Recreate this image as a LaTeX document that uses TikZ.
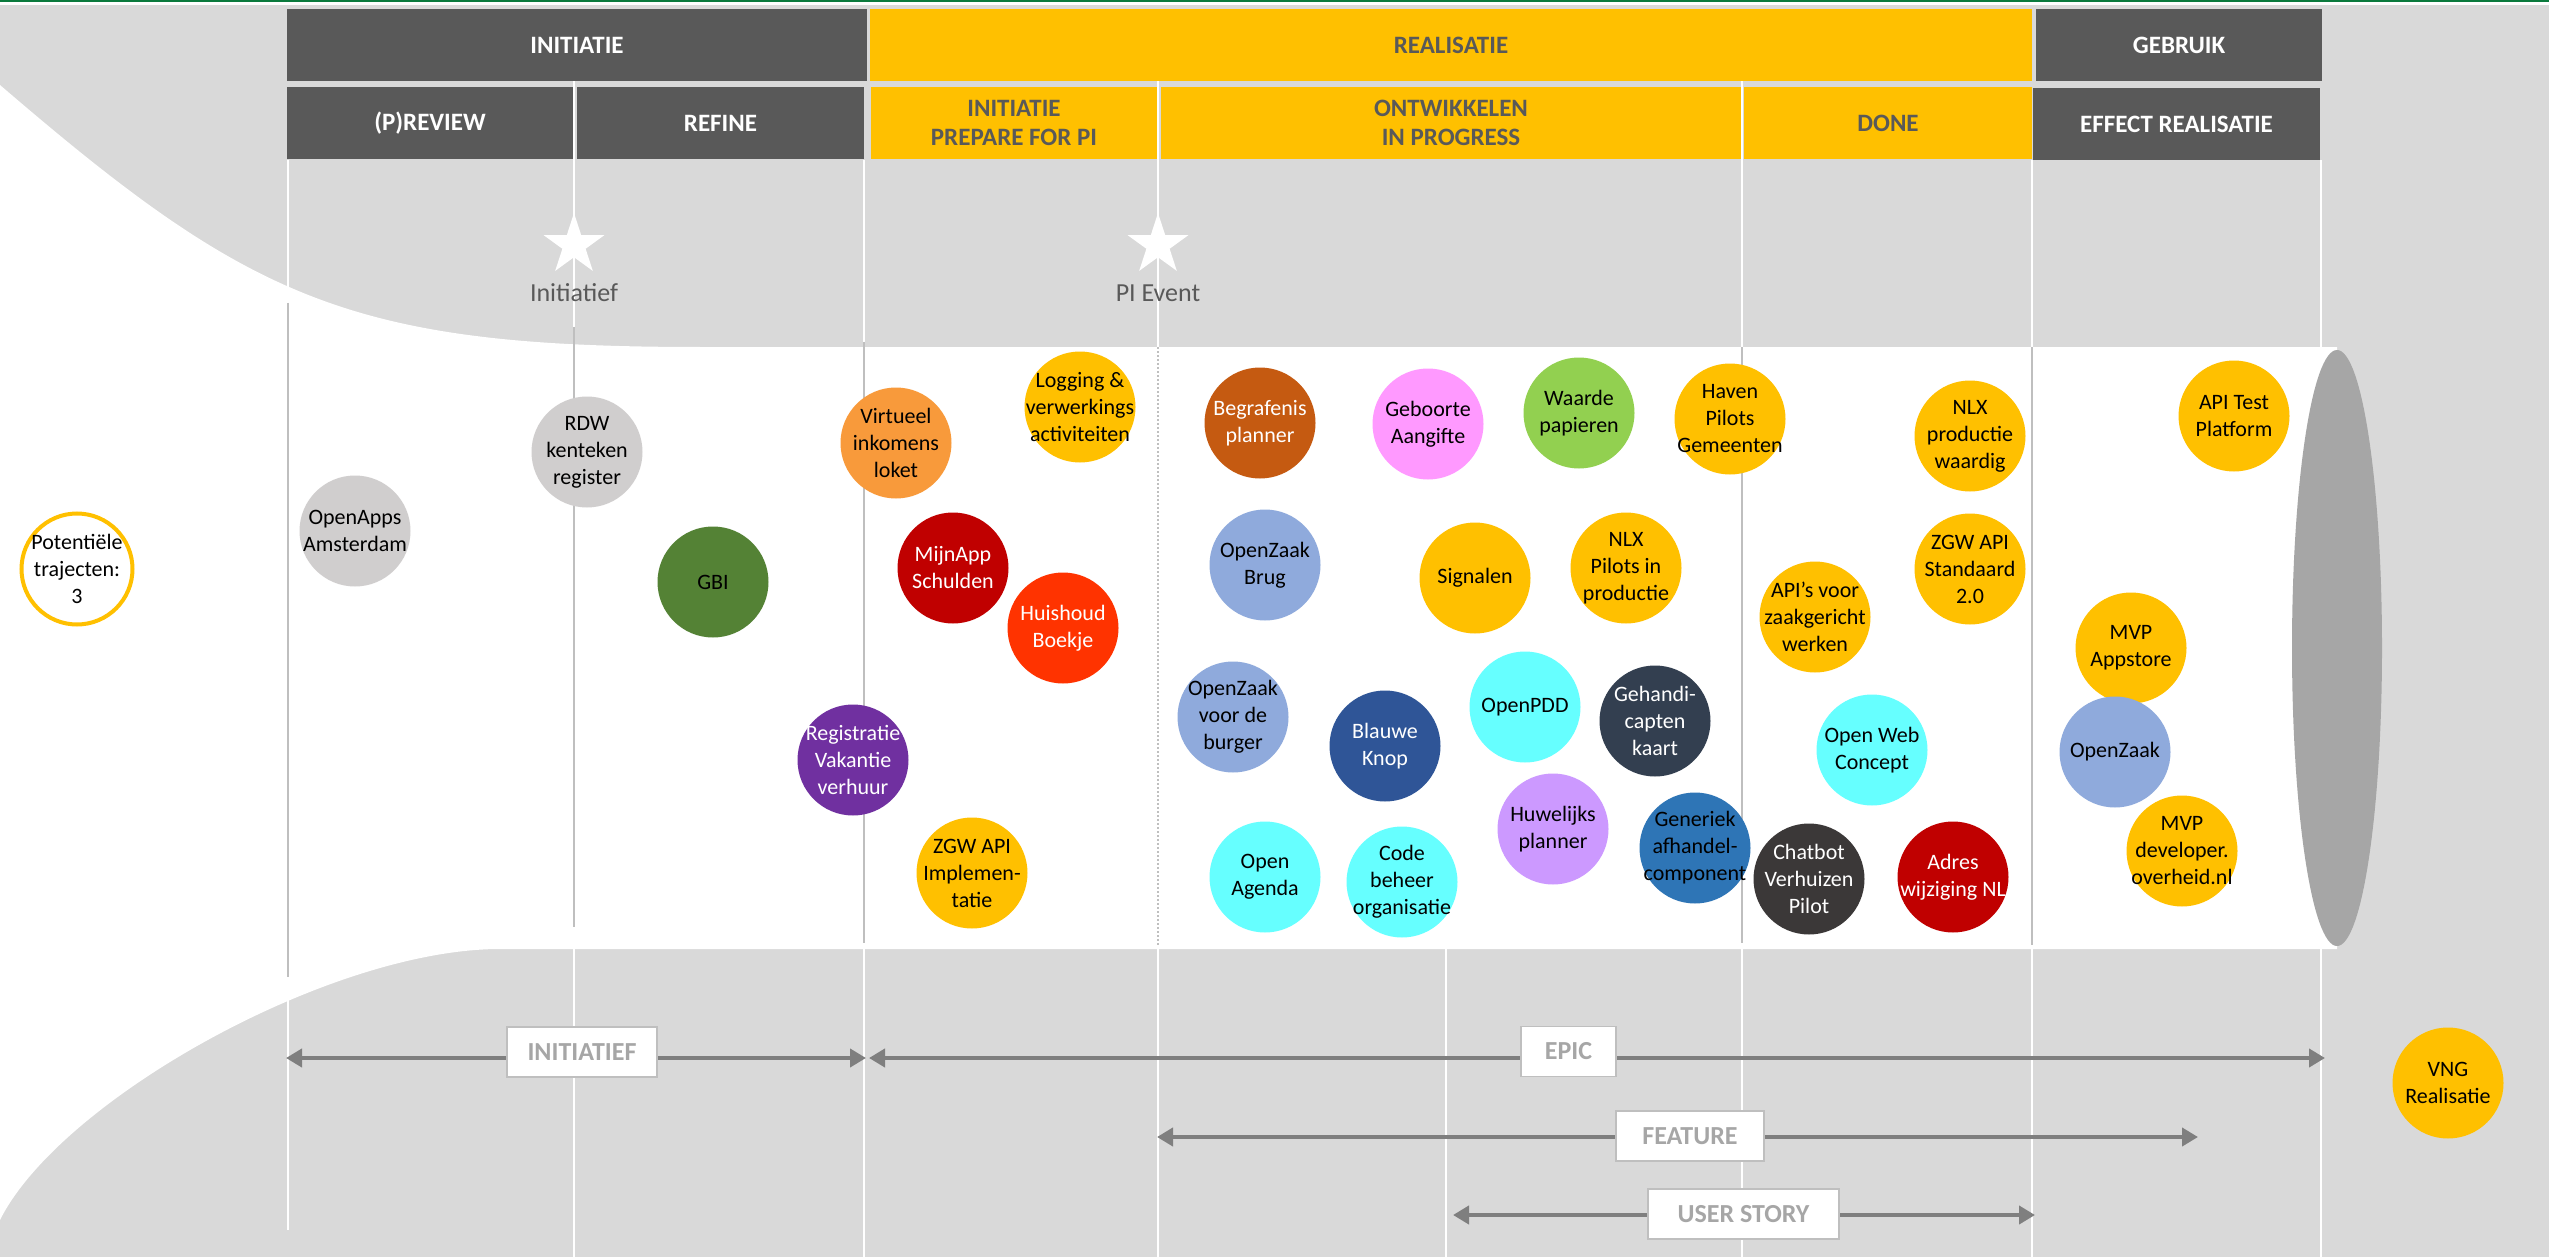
\documentclass[tikz,border=0pt]{standalone}
\usepackage{fontspec}
\setmainfont{Carlito}
\usetikzlibrary{arrows.meta,shapes.geometric}
\definecolor{bggray}{HTML}{D9D9D9}
\definecolor{hdrdark}{HTML}{595959}
\definecolor{vngyellow}{HTML}{FFC000}
\definecolor{capgray}{HTML}{A6A6A6}
\definecolor{linegray}{HTML}{BFBFBF}
\definecolor{arrowgray}{HTML}{7F7F7F}
\definecolor{topgreen}{HTML}{0B7A3D}
\definecolor{cLightGray}{HTML}{D0CECE}
\definecolor{cGreenDk}{HTML}{548235}
\definecolor{cOrange}{HTML}{F89A3B}
\definecolor{cDarkRed}{HTML}{C00000}
\definecolor{cRedOr}{HTML}{FF3300}
\definecolor{cPurple}{HTML}{7030A0}
\definecolor{cBrown}{HTML}{C55A11}
\definecolor{cPink}{HTML}{FF99FF}
\definecolor{cLime}{HTML}{92D050}
\definecolor{cSteel}{HTML}{8FAADC}
\definecolor{cNavy}{HTML}{2F5597}
\definecolor{cCyan}{HTML}{66FFFF}
\definecolor{cSlate}{HTML}{333F50}
\definecolor{cLav}{HTML}{CC99FF}
\definecolor{cBlue}{HTML}{2E75B6}
\definecolor{cCharcoal}{HTML}{3B3838}
\newcommand{\bub}[6]{%
  \node[bubble, fill=#4] (#1) at (#2,#3) {};
  \node[btext, text=#5] (#1t) at (#1) {#6};}
\tikzset{
  hdrbox/.style={rectangle, inner sep=0pt, minimum height=72pt, font=\fontsize{25}{29}\selectfont\bfseries, align=center},
  darkhdr/.style={hdrbox, fill=hdrdark, text=white},
  yelhdr/.style={hdrbox, fill=vngyellow, text=hdrdark},
  bubble/.style={circle, minimum size=111pt, inner sep=0pt},
  btext/.style={align=center, inner sep=0pt, font=\fontsize{22}{27}\selectfont},
  sepwhite/.style={draw=white, line width=1.5pt},
  sepgray/.style={draw=linegray, line width=1.5pt},
  milestone/.style={star, star points=5, star point ratio=2.618, fill=white, minimum size=64pt, inner sep=0pt},
  mstext/.style={text=hdrdark, font=\fontsize{26}{30}\selectfont, inner sep=0pt},
  spanarrow/.style={draw=arrowgray, line width=4pt, {Triangle[length=16pt,width=18pt]}-{Triangle[length=16pt,width=18pt]}},
  spanlabel/.style={fill=white, draw=linegray, line width=1.5pt, minimum height=50pt, inner sep=0pt, text=capgray, font=\fontsize{26}{30}\selectfont\bfseries},
}
\begin{document}
\begin{tikzpicture}[x=1pt,y=-1pt]
\useasboundingbox (0,0) rectangle (2549,1257);
% background
\fill[bggray] (0,0) rectangle (2549,1257);
\fill[white] (0,2) rectangle (2549,5);
\fill[topgreen] (0,0) rectangle (2549,2);
% white separator lines over the gray
\draw[sepwhite] (288,160) -- (288,1230);
\draw[sepwhite] (574,81) -- (574,1257);
\draw[sepwhite] (864,160) -- (864,1257);
\draw[sepwhite] (1158,78) -- (1158,1257);
\draw[sepwhite] (1446,949) -- (1446,1257);
\draw[sepwhite] (1742,81) -- (1742,1257);
\draw[sepwhite] (2032,160) -- (2032,1257);
\draw[sepwhite] (2321,160) -- (2321,1257);
% white funnel band
\fill[white] (0,85) .. controls (250,300) and (350,347) .. (700,347) -- (2337,347) -- (2337,949) -- (500,949) .. controls (330,949) and (60,1100) .. (0,1220) -- cycle;
% gray lines inside the band
\draw[sepgray] (288,303) -- (288,977);
\draw[sepgray] (574,327) -- (574,927);
\draw[sepgray] (864,342) -- (864,943);
\draw[sepgray, dash pattern=on 2pt off 2pt] (1158,347) -- (1158,945);
\draw[sepgray] (1742,347) -- (1742,943);
\draw[sepgray] (2032,347) -- (2032,945);
% cylinder end
\node[ellipse, fill=capgray, minimum width=90pt, minimum height=596pt, inner sep=0pt] (cap) at (2337,648) {};
% headers
\node[darkhdr, minimum width=580pt] (hInit) at (577,45) {INITIATIE};
\node[yelhdr, minimum width=1162pt] (hReal) at (1451,45) {REALISATIE};
\node[darkhdr, minimum width=286pt] (hGebr) at (2179,45) {GEBRUIK};
\node[darkhdr, minimum width=286pt] (hPrev) at (430,123) {(P)REVIEW};
\node[darkhdr, minimum width=287pt] (hRef) at (720.5,123) {REFINE};
\node[yelhdr, minimum width=286pt] (hPrep) at (1014,123) {INITIATIE\\PREPARE FOR PI};
\node[yelhdr, minimum width=580pt] (hOntw) at (1451,123) {ONTWIKKELEN\\IN PROGRESS};
\node[yelhdr, minimum width=288pt] (hDone) at (1888,123) {DONE};
\node[darkhdr, minimum width=287pt] (hEff) at (2176.5,124) {EFFECT REALISATIE};
% milestones
\node[milestone] (star1) at (574,245) {};
\node[mstext] (ms1) at (574,293) {Initiatief};
\node[milestone] (star2) at (1158,245) {};
\node[mstext] (ms2) at (1158,293) {PI Event};
% bubbles
\node[bubble, fill=white, draw=vngyellow, line width=4pt] (pot) at (77,569) {};
\node[btext] (pott) at (pot) {Potentiële\\trajecten:\\3};
\bub{openapps}{355}{531}{cLightGray}{black}{OpenApps\\Amsterdam}
\bub{rdw}{587}{452}{cLightGray}{black}{RDW\\kenteken\\register}
\bub{gbi}{713}{582}{cGreenDk}{black}{GBI}
\bub{virtueel}{896}{443}{cOrange}{black}{Virtueel\\inkomens\\loket}
\bub{logging}{1080}{407}{vngyellow}{black}{Logging \&\\verwerkings\\activiteiten}
\bub{mijnapp}{953}{568}{cDarkRed}{white}{MijnApp\\Schulden}
\bub{huishoud}{1063}{628}{cRedOr}{white}{Huishoud\\Boekje}
\bub{registratie}{853}{760}{cPurple}{white}{Registratie\\Vakantie\\verhuur}
\bub{zgwimpl}{972}{873}{vngyellow}{black}{ZGW API\\Implemen-\\tatie}
\bub{begrafenis}{1260}{423}{cBrown}{white}{Begrafenis\\planner}
\bub{geboorte}{1428}{424}{cPink}{black}{Geboorte\\Aangifte}
\bub{waarde}{1579}{413}{cLime}{black}{Waarde\\papieren}
\bub{haven}{1730}{419}{vngyellow}{black}{Haven\\Pilots\\Gemeenten}
\bub{ozbrug}{1265}{565}{cSteel}{black}{OpenZaak\\Brug}
\bub{signalen}{1475}{578}{vngyellow}{black}{Signalen}
\bub{nlxpilots}{1626}{568}{vngyellow}{black}{NLX\\Pilots in\\productie}
\bub{ozburger}{1233}{717}{cSteel}{black}{OpenZaak\\voor de\\burger}
\bub{blauwe}{1385}{746}{cNavy}{white}{Blauwe\\Knop}
\bub{openpdd}{1525}{707}{cCyan}{black}{OpenPDD}
\bub{gehandi}{1655}{721}{cSlate}{white}{Gehandi-\\capten\\kaart}
\bub{huwelijk}{1553}{829}{cLav}{black}{Huwelijks\\planner}
\bub{generiek}{1695}{848}{cBlue}{black}{Generiek\\afhandel-\\component}
\bub{openagenda}{1265}{877}{cCyan}{black}{Open\\Agenda}
\bub{codebeheer}{1402}{882}{cCyan}{black}{Code\\beheer\\organisatie}
\bub{apisvoor}{1815}{617}{vngyellow}{black}{API’s voor\\zaakgericht\\werken}
\bub{openweb}{1872}{750}{cCyan}{black}{Open Web\\Concept}
\bub{chatbot}{1809}{879}{cCharcoal}{white}{Chatbot\\Verhuizen\\Pilot}
\bub{adres}{1953}{877}{cDarkRed}{white}{Adres\\wijziging NL}
\bub{nlxprod}{1970}{436}{vngyellow}{black}{NLX\\productie\\waardig}
\bub{zgwstd}{1970}{569}{vngyellow}{black}{ZGW API\\Standaard\\2.0}
\bub{apitest}{2234}{416}{vngyellow}{black}{API Test\\Platform}
\bub{mvpapp}{2131}{648}{vngyellow}{black}{MVP\\Appstore}
\bub{openzaak}{2115}{752}{cSteel}{black}{OpenZaak}
\bub{mvpdev}{2182}{851}{vngyellow}{black}{MVP\\developer.\\overheid.nl}
\bub{vng}{2448}{1083}{vngyellow}{black}{VNG\\Realisatie}
% span arrows
\coordinate (iniL) at (286,1058);
\coordinate (iniR) at (866,1058);
\coordinate (epL) at (869,1058);
\coordinate (epR) at (2325,1058);
\coordinate (feL) at (1157,1137);
\coordinate (feR) at (2198,1137);
\coordinate (usL) at (1453,1215);
\coordinate (usR) at (2035,1215);
\draw[spanarrow] (iniL) -- (iniR);
\draw[spanarrow] (epL) -- (epR);
\draw[spanarrow] (feL) -- (feR);
\draw[spanarrow] (usL) -- (usR);
\node[spanlabel, minimum width=150pt] (lIni) at (582,1052) {INITIATIEF};
\node[spanlabel, minimum width=95pt] (lEpic) at (1568.5,1051.5) {EPIC};
\node[spanlabel, minimum width=148pt] (lFeat) at (1690,1136) {FEATURE};
\node[spanlabel, minimum width=191pt] (lUser) at (1743.5,1214) {USER STORY};
\end{tikzpicture}
\end{document}
